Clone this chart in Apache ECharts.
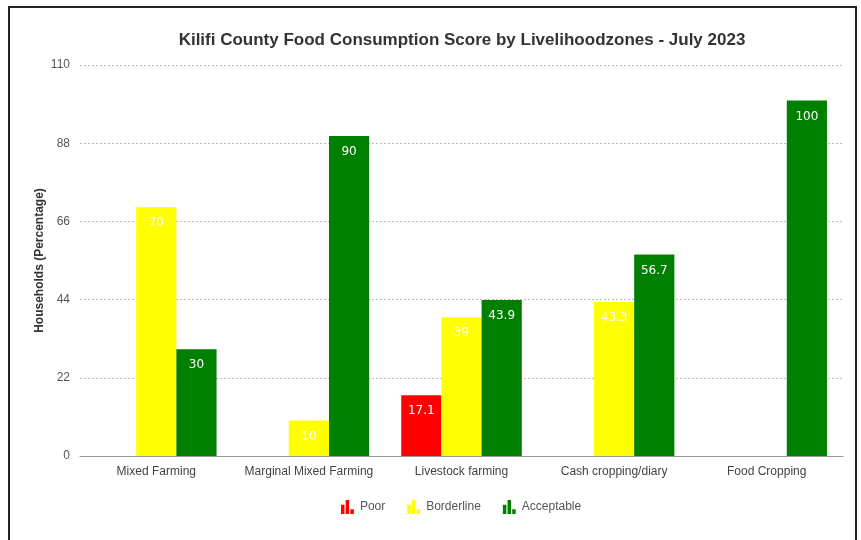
<!DOCTYPE html>
<html>
<head>
<meta charset="utf-8">
<script src="https://cdn.jsdelivr.net/npm/echarts@6/dist/echarts.min.js"></script>
<style>
  html, body { margin: 0; padding: 0; background: #fff; }
  #frame { position: absolute; left: 8px; top: 6px; width: 849px; height: 560px; border: 2px solid #222; box-sizing: border-box; }
  #chart { position: absolute; left: 0; top: 0; width: 861px; height: 540px; }
</style>
</head>
<body>
<div id="frame"></div>
<div id="chart"></div>
<script>
// Livelihood zones on the x axis
const zones = ['Mixed Farming', 'Marginal Mixed Farming', 'Livestock farming', 'Cash cropping/diary', 'Food Cropping'];
// Share of households (%) per consumption group
const poor = [null, null, 17.1, null, null];
const borderline = [70, 10, 39, 43.3, null];
const acceptable = [30, 90, 43.9, 56.7, 100];
const yTicks = [0, 22, 44, 66, 88, 110];

const chart = echarts.init(document.getElementById('chart'));
const labelStyle = {
  show: true, position: 'insideTop', distance: 10,
  color: '#fff', fontSize: 12, fontFamily: 'DejaVu Sans'
};
function makeSeries(name, data, color) {
  return {
    name, type: 'bar', data, barGap: '0%', barCategoryGap: '21%',
    itemStyle: { color },
    label: labelStyle,
    emphasis: { disabled: true }
  };
}
chart.setOption({
  animation: false,
  title: {
    text: 'Kilifi County Food Consumption Score by Livelihoodzones - July 2023',
    left: 457, top: 27, textAlign: 'center',
    textStyle: { fontSize: 17, fontWeight: 'bold', color: '#333', fontFamily: 'Liberation Sans' }
  },
  legend: {
    bottom: 21, left: 336, itemGap: 22, itemWidth: 15, itemHeight: 14,
    icon: 'path://M0,4 H3 V12 H0 Z M4,0 H7 V12 H4 Z M8,8 H11 V12 H8 Z',
    textStyle: { fontSize: 12, color: '#555', fontFamily: 'Liberation Sans' },
    data: ['Poor', 'Borderline', 'Acceptable']
  },
  grid: { left: 80, right: 18, top: 65, bottom: 84, containLabel: false },
  xAxis: {
    type: 'category', data: zones,
    axisLine: { lineStyle: { color: '#999' } },
    axisTick: { show: false },
    axisLabel: { interval: 0, color: '#444', fontSize: 12, margin: 10, fontFamily: 'Liberation Sans' }
  },
  yAxis: {
    type: 'value', min: yTicks[0], max: yTicks[yTicks.length - 1], interval: 22,
    name: 'Households (Percentage)', nameLocation: 'middle', nameGap: 34,
    nameMoveOverlap: false,
    nameTextStyle: { fontSize: 12, fontWeight: 'bold', color: '#333', fontFamily: 'Liberation Sans' },
    axisLine: { show: false }, axisTick: { show: false },
    axisLabel: { color: '#555', fontSize: 12, margin: 10, fontFamily: 'Liberation Sans' },
    splitLine: { lineStyle: { color: '#bbb', type: [2, 2] } }
  },
  series: [
    makeSeries('Poor', poor, '#ff0000'),
    makeSeries('Borderline', borderline, '#ffff00'),
    makeSeries('Acceptable', acceptable, '#008000')
  ]
});
</script>
</body>
</html>
